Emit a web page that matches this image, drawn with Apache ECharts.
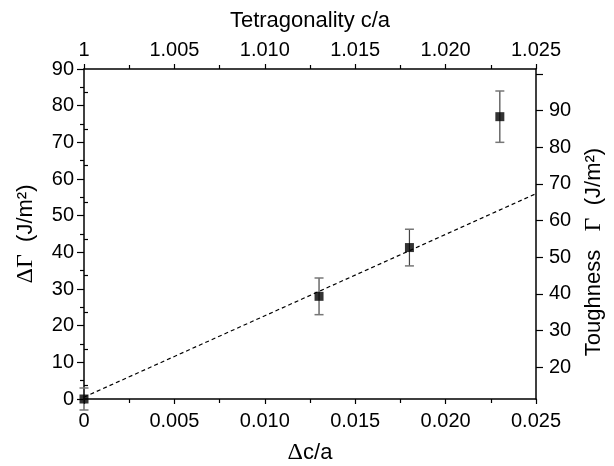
<!DOCTYPE html>
<html>
<head>
<meta charset="utf-8">
<script src="https://cdn.jsdelivr.net/npm/echarts@6/dist/echarts.min.js"></script>
<style>html,body{margin:0;padding:0;background:#fff}#c{width:614px;height:466px}</style>
</head>
<body>
<div id="c"></div>
<script>
// Data
const dcA = [0, 0.013, 0.018, 0.023];
const dGamma = [0, 28, 41.3, 77];
const errGamma = [3, 5, 5, 7];
const fitX = [0, 0.025];
const fitY = [0.5, 56];
const rightOffset = 11.3;              // Toughness = ΔΓ + offset
const rightMajor = [20, 30, 40, 50, 60, 70, 80, 90, 100];
const rightLabels = [20, 30, 40, 50, 60, 70, 80, 90];
const rightMinor = [15, 25, 35, 45, 55, 65, 75, 85, 95];

const FONT = 'Liberation Sans';
const black = '#000';
const chart = echarts.init(document.getElementById('c'));

const axisLine = {show: true, onZero: false, lineStyle: {color: black, width: 1.5}};
const labelStyle = {color: black, fontSize: 20, fontFamily: FONT};
const nameRich = {
  g: {fontFamily: 'Liberation Serif', fontSize: 24, color: black},
  t: {fontFamily: FONT, fontSize: 22, color: black}
};

const pts = dcA.map((x, i) => [x, dGamma[i]]);
const errs = dcA.map((x, i) => [x, dGamma[i] - errGamma[i], dGamma[i] + errGamma[i]]);
const fit = fitX.map((x, i) => [x, fitY[i]]);

const tickStyle = {color: black, width: 1.2};

chart.setOption({
  animation: false,
  backgroundColor: '#fff',
  grid: {left: 84, right: 78, top: 69, bottom: 67, containLabel: false, outerBoundsMode: 'none'},
  xAxis: [
    {
      type: 'value', position: 'bottom', min: 0, max: 0.025, interval: 0.005,
      axisLine, splitLine: {show: false},
      axisTick: {show: true, inside: false, length: 5, lineStyle: tickStyle},
      minorTick: {show: true, splitNumber: 2, length: 4, lineStyle: tickStyle},
      axisLabel: Object.assign({margin: 12, formatter: v => v === 0 ? '0' : v.toFixed(3)}, labelStyle),
      name: '{g|Δ}{t|c/a}', nameLocation: 'middle', nameGap: 42,
      nameTextStyle: {rich: nameRich}
    },
    {
      type: 'value', position: 'top', min: 1, max: 1.025, interval: 0.005,
      axisLine, splitLine: {show: false},
      axisTick: {show: true, inside: false, length: 5, lineStyle: tickStyle},
      minorTick: {show: true, splitNumber: 2, length: 4, lineStyle: tickStyle},
      axisLabel: Object.assign({margin: 9, formatter: v => v === 1 ? '1' : v.toFixed(3)}, labelStyle),
      name: 'Tetragonality c/a', nameLocation: 'middle', nameGap: 37,
      nameTextStyle: {color: black, fontSize: 22, fontFamily: FONT}
    }
  ],
  yAxis: [
    {
      type: 'value', position: 'left', min: 0, max: 90, interval: 10,
      axisLine, splitLine: {show: false},
      axisTick: {show: true, inside: false, length: 7, lineStyle: tickStyle},
      minorTick: {show: true, splitNumber: 2, length: 4, lineStyle: tickStyle},
      axisLabel: Object.assign({margin: 10}, labelStyle),
      name: '{g|ΔΓ}{t|  (J/m²)}', nameLocation: 'middle', nameGap: 46, nameRotate: 90,
      nameTextStyle: {rich: nameRich}
    },
    {
      type: 'value', position: 'right', min: rightOffset, max: 90 + rightOffset,
      axisLine, splitLine: {show: false},
      axisTick: {show: true, inside: false, length: 7, customValues: rightMajor, lineStyle: tickStyle},
      axisLabel: Object.assign({margin: 13, customValues: rightLabels}, labelStyle),
      name: '{t|Toughness   }{g|Γ}{t|  (J/m²)}', nameLocation: 'middle', nameGap: 46, nameRotate: 90,
      nameTextStyle: {rich: nameRich, padding: [0, 36, 0, 0]}
    },
    {
      type: 'value', position: 'right', min: rightOffset, max: 90 + rightOffset,
      axisLine: {show: false}, splitLine: {show: false},
      axisTick: {show: true, inside: false, length: 4, customValues: rightMinor, lineStyle: tickStyle},
      axisLabel: {show: false}
    }
  ],
  series: [
    {
      type: 'line', xAxisIndex: 0, yAxisIndex: 0, data: fit, symbol: 'none',
      lineStyle: {color: black, width: 1.2, type: [4, 3]}, z: 2, silent: true
    },
    {
      type: 'custom', xAxisIndex: 0, yAxisIndex: 0, data: errs, clip: false, z: 3,
      encode: {x: 0, y: [1, 2]},
      renderItem: function (params, api) {
        const x = api.value(0);
        const lo = api.coord([x, api.value(1)]);
        const hi = api.coord([x, api.value(2)]);
        const w = 4.5;
        const st = {stroke: '#444', lineWidth: 1.2};
        const cap = {stroke: '#777', lineWidth: 1.5};
        return {
          type: 'group',
          children: [
            {type: 'line', shape: {x1: lo[0], y1: lo[1], x2: hi[0], y2: hi[1]}, style: st},
            {type: 'line', shape: {x1: lo[0] - w, y1: lo[1], x2: lo[0] + w, y2: lo[1]}, style: cap},
            {type: 'line', shape: {x1: hi[0] - w, y1: hi[1], x2: hi[0] + w, y2: hi[1]}, style: cap}
          ]
        };
      }
    },
    {
      type: 'scatter', xAxisIndex: 0, yAxisIndex: 0, data: pts, symbol: 'rect', symbolSize: 9,
      itemStyle: {color: black}, clip: false, z: 4
    }
  ]
});
</script>
</body>
</html>
